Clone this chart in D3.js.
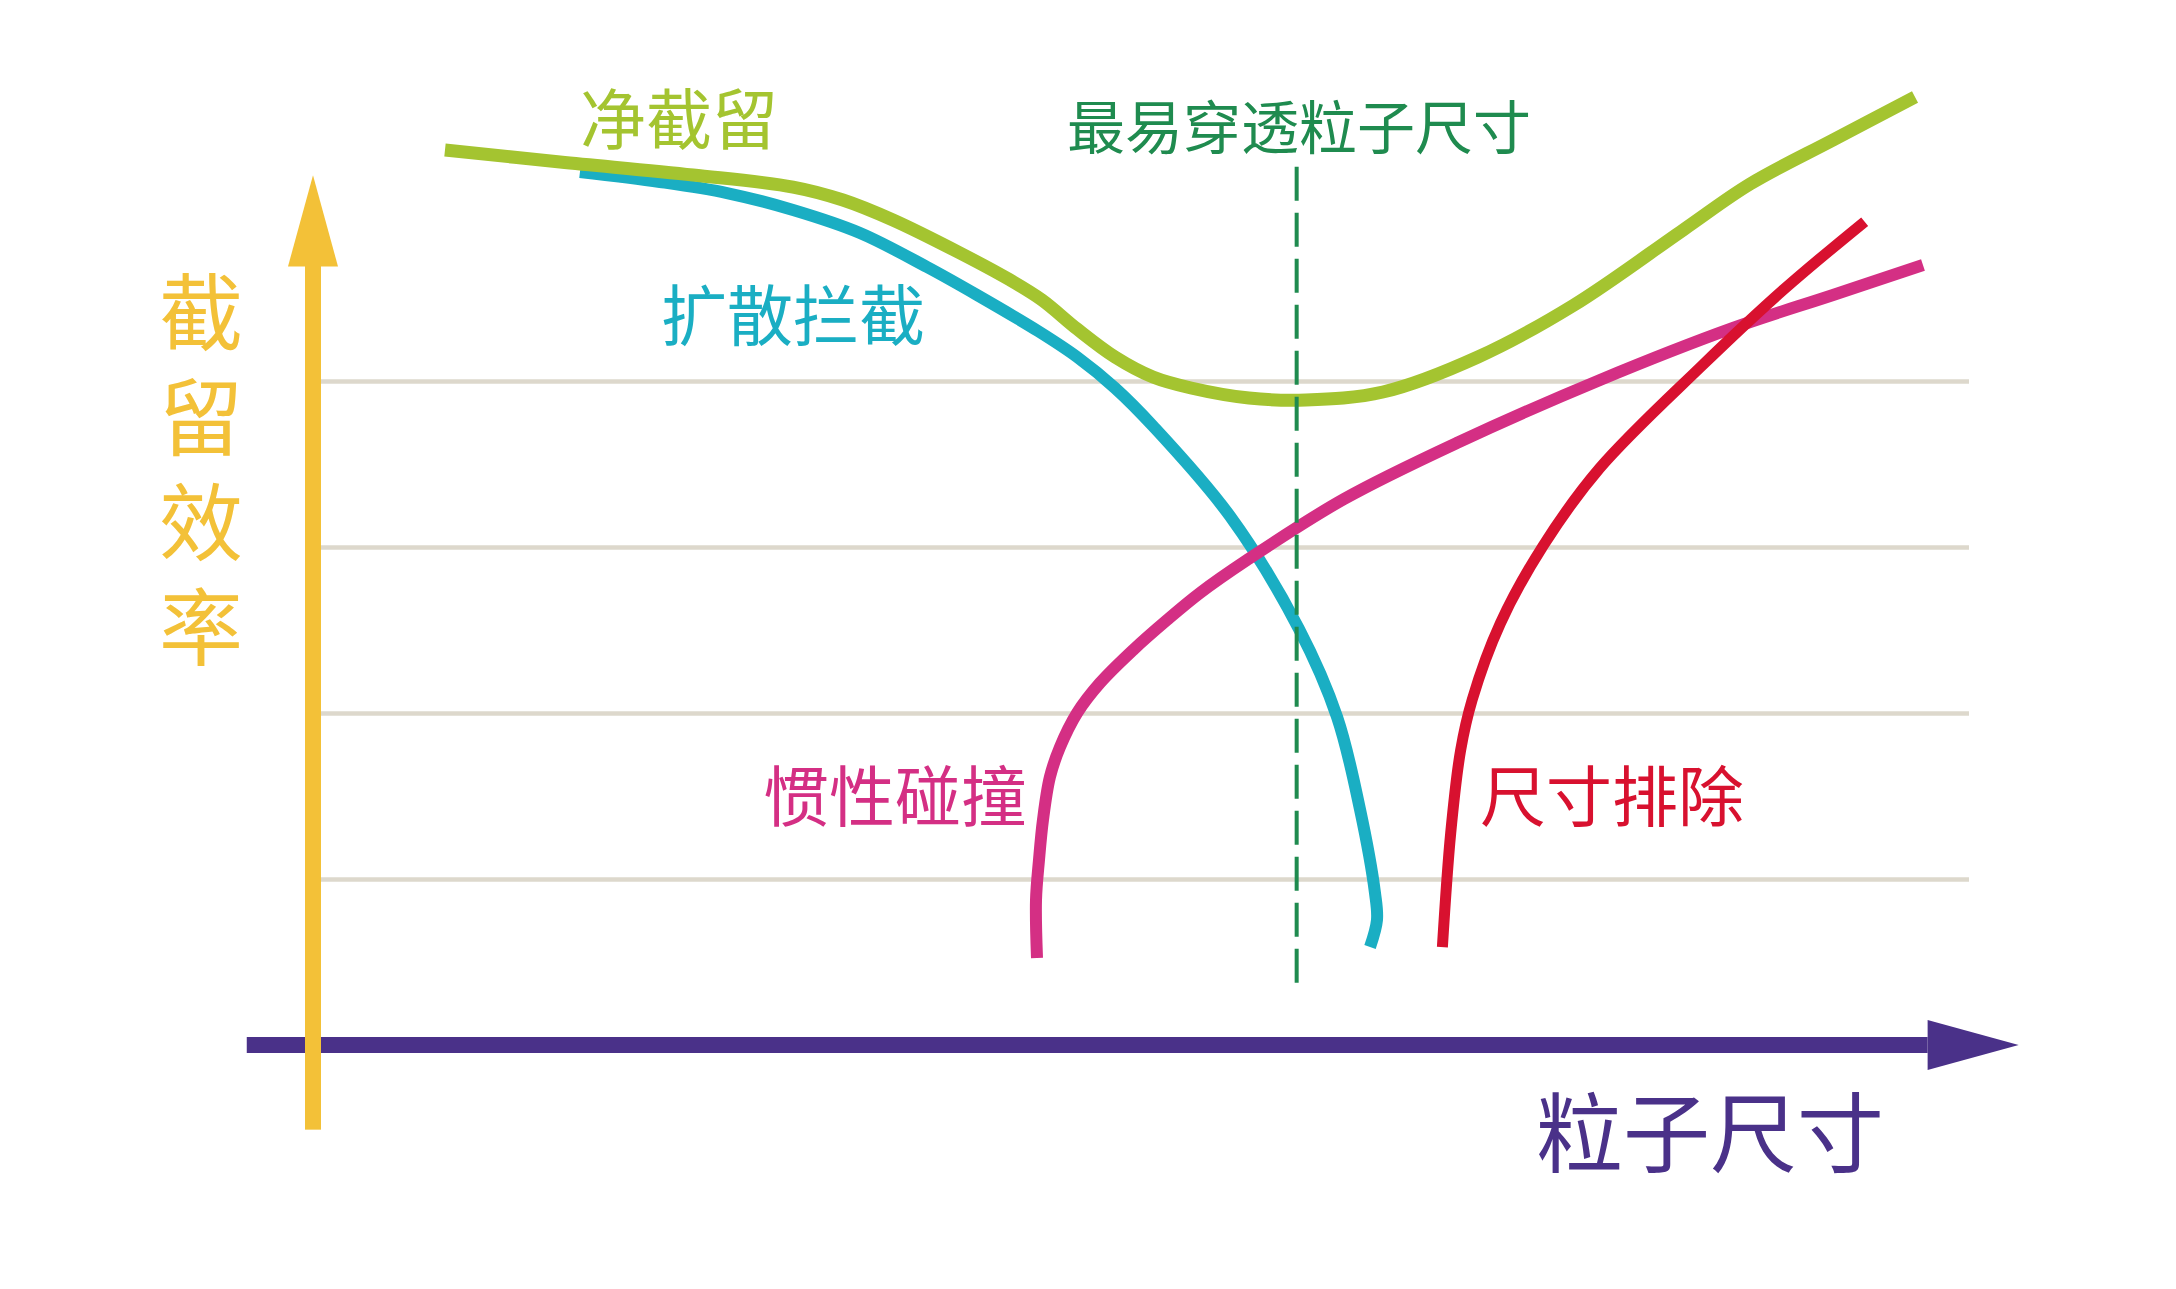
<!DOCTYPE html>
<html lang="zh">
<head>
  <meta charset="UTF-8">
  <title>过滤截留效率</title>
  <script src="https://d3js.org/d3.v7.min.js"></script>
  <style>
    body { margin: 0; background: #fff; }
    text { font-family: "Noto Sans CJK SC", "Noto Sans", sans-serif; }
  </style>
</head>
<body>
  <svg id="svg" width="2176" height="1289"></svg>
  <script>
    // 曲线数据 [粒子尺寸, 截留效率]，示意图单位
    var netRetention = [[7.97, 107.83], [14.92, 106.39], [22.95, 104.82], [28.99, 103.37],
      [32, 101.81], [35.02, 99.4], [39.07, 95.42], [42.09, 92.17], [44.02, 89.76],
      [46.14, 86.27], [48.43, 82.89], [50.72, 80.48], [53.02, 79.16], [56.52, 77.95],
      [59.96, 77.71], [64.61, 78.67], [70.35, 82.89], [76.15, 89.16], [82.73, 98.19],
      [86.78, 103.73], [91.79, 109.04], [96.74, 114.22]]
    var diffusion = [[16.12, 105.18], [20.95, 103.98], [25, 102.65], [28.99, 100.6],
      [33.03, 97.83], [37.08, 93.73], [40.1, 90.36], [43.78, 86.02], [46.14, 82.89],
      [48.43, 79.16], [50.72, 74.58], [55.37, 63.73], [59.54, 50.12], [61.84, 39.52],
      [63.22, 28.43], [64.13, 18.31], [64.25, 15.06], [63.83, 11.81]]
    var inertial = [[43.72, 10.48], [43.66, 17.47], [43.84, 22.29], [44.08, 27.11],
      [44.5, 32.29], [45.11, 35.9], [46.14, 40], [47.52, 43.61], [49.52, 47.59],
      [51.57, 51.2], [53.56, 54.46], [56.4, 58.43], [62.26, 65.78], [69.2, 72.65],
      [77.72, 80.12], [85.75, 86.39], [91.79, 90.36], [97.22, 93.98]]
    var sieving = [[68.2, 11.8], [68.7, 25.5], [69.3, 35.5], [70, 41.6], [71.7, 50.8],
      [74.3, 60.2], [77.7, 69.5], [83.8, 81.7], [88.8, 91], [93.7, 99.2]]
    var mpps = 59.4          // 最易穿透粒子尺寸
    var mppsRange = [7.1, 105.8]
    var gridTicks = [20, 40, 60, 80]

    var curveNames = ['净截留', '扩散拦截', '惯性碰撞', '尺寸排除']
    var mppsName = '最易穿透粒子尺寸'
    var xTitle = '粒子尺寸'
    var yTitle = '截留效率'

    var svg = d3.select('svg')
    var x = d3.scaleLinear().domain([0, 100]).range([313, 1969])
    var y = d3.scaleLinear().domain([0, 100]).range([1045, 215])

    // 网格线
    var grid = svg.append('g')
      .attr('transform', 'translate(' + x(0) + ',0)')
      .call(d3.axisRight(y).tickValues(gridTicks).tickSize(x(100) - x(0)).tickFormat(''))
    grid.select('.domain').remove()
    grid.selectAll('line').attr('stroke', '#ddd8cc').attr('stroke-width', 4.5)

    // 横轴（紫色箭头）
    var xAxisY = y(0)
    svg.append('rect')
      .attr('x', x(-4)).attr('y', xAxisY - 8)
      .attr('width', x(97.5) - x(-4)).attr('height', 16)
      .attr('fill', '#4a3189')
    svg.append('path')
      .attr('d', 'M' + x(97.5) + ',' + (xAxisY - 25) + 'L' + x(103) + ',' + xAxisY +
        'L' + x(97.5) + ',' + (xAxisY + 25) + 'Z')
      .attr('fill', '#4a3189')

    // 纵轴（黄色箭头）
    var yAxisX = x(0)
    svg.append('rect')
      .attr('x', yAxisX - 8).attr('y', y(94))
      .attr('width', 16).attr('height', y(-10.2) - y(94))
      .attr('fill', '#f3c138')
    svg.append('path')
      .attr('d', 'M' + (yAxisX - 25) + ',' + y(93.8) + 'L' + yAxisX + ',' + y(104.8) +
        'L' + (yAxisX + 25) + ',' + y(93.8) + 'Z')
      .attr('fill', '#f3c138')

    // 曲线
    var line = d3.line()
      .x(d => x(d[0]))
      .y(d => y(d[1]))
      .curve(d3.curveCatmullRom.alpha(0.5))

    var series = [
      { data: diffusion, color: '#1aaec3', width: 12 },
      { data: netRetention, color: '#a4c430', width: 13 },
      { data: inertial, color: '#d42f84', width: 12 },
      { data: sieving, color: '#d8112f', width: 11 }
    ]
    svg.selectAll('path.curve')
      .data(series)
      .enter()
      .append('path')
      .attr('class', 'curve')
      .attr('d', d => line(d.data))
      .attr('fill', 'none')
      .attr('stroke', d => d.color)
      .attr('stroke-width', d => d.width)
      .attr('stroke-linecap', 'butt')

    // 最易穿透粒子尺寸 虚线
    svg.append('line')
      .attr('x1', x(mpps)).attr('x2', x(mpps))
      .attr('y1', y(mppsRange[1])).attr('y2', y(mppsRange[0]))
      .attr('stroke', '#1f8b4f')
      .attr('stroke-width', 4)
      .attr('stroke-dasharray', '34 12')

    // 文字
    var labels = [
      { text: curveNames[0], x: 580, y: 144, size: 66, color: '#a4c430' },
      { text: curveNames[1], x: 661, y: 340, size: 66, color: '#1aaec3' },
      { text: curveNames[2], x: 763, y: 821, size: 66, color: '#d42f84' },
      { text: curveNames[3], x: 1480, y: 821, size: 66, color: '#d8112f' },
      { text: mppsName, x: 1067, y: 149, size: 58, color: '#1f8b4f' },
      { text: xTitle, x: 1536, y: 1166, size: 87, color: '#4a3189' }
    ]
    svg.selectAll('text.label')
      .data(labels)
      .enter()
      .append('text')
      .attr('class', 'label')
      .attr('x', d => d.x)
      .attr('y', d => d.y)
      .attr('font-size', d => d.size)
      .attr('fill', d => d.color)
      .text(d => d.text)

    // 纵轴标题，竖排
    svg.append('text')
      .attr('x', 201)
      .attr('y', 270)
      .attr('writing-mode', 'vertical-rl')
      .attr('letter-spacing', 21)
      .attr('font-size', 84)
      .attr('fill', '#f3c138')
      .text(yTitle)
  </script>
</body>
</html>
